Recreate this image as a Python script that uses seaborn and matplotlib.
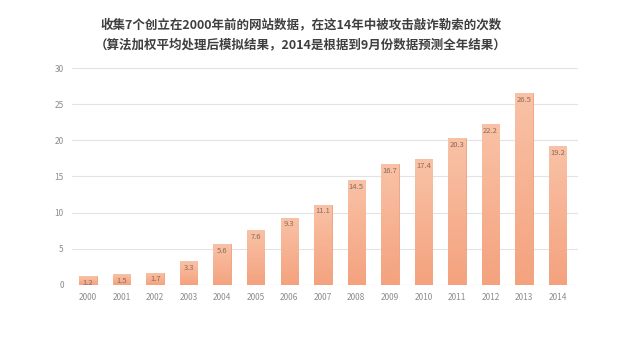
import matplotlib
matplotlib.use('Agg')
import matplotlib.pyplot as plt
import seaborn as sns
import numpy as np
import pandas as pd
from matplotlib.colors import LinearSegmentedColormap

# Data
years = ['2000', '2001', '2002', '2003', '2004', '2005', '2006', '2007',
         '2008', '2009', '2010', '2011', '2012', '2013', '2014']
counts = [1.2, 1.5, 1.7, 3.3, 5.6, 7.6, 9.3, 11.1, 14.5, 16.7, 17.4, 20.3, 22.2, 26.5, 19.2]
title_lines = ['收集7个创立在2000年前的网站数据，在这14年中被攻击敲诈勒索的次数',
               '（算法加权平均处理后模拟结果，2014是根据到9月份数据预测全年结果）']

df = pd.DataFrame({'year': years, 'count': counts})

sns.set_theme(style='white')
plt.rcParams['font.family'] = ['Noto Sans CJK SC', 'DejaVu Sans']

fig = plt.figure(figsize=(6.4, 3.58), dpi=100)
ax = fig.add_axes([0.1125, 0.204, 0.79, 0.606])

sns.barplot(x='year', y='count', data=df, color='#F5AA88', width=0.52,
            edgecolor='#EE9E7C', linewidth=0.6, ax=ax, zorder=3)

# vertical gradient inside each bar
cmap = LinearSegmentedColormap.from_list('peach', ['#F4A27E', '#F9C2A6'])
grad = np.linspace(0, 1, 256).reshape(-1, 1)
for p in ax.patches:
    x0, y0 = p.get_x(), p.get_y()
    w, h = p.get_width(), p.get_height()
    im = ax.imshow(grad, extent=[x0, x0 + w, y0, y0 + h], origin='lower',
                   cmap=cmap, aspect='auto', zorder=3.5)
    im.set_clip_path(p)

for i, v in enumerate(counts):
    ax.text(i, v - 0.35, f'{v:.1f}', ha='center', va='top', fontsize=5.5,
            color='#8C6A5C', zorder=5)

ax.set_xlim(-0.48, 14.6)
ax.set_ylim(0, 30)
ax.set_yticks(range(0, 31, 5))
ax.yaxis.grid(True, color='#E3E3E3', linewidth=0.8, zorder=0)
ax.set_axisbelow(True)
for s in ax.spines.values():
    s.set_visible(False)
ax.axhline(0, color='#D9D9D9', linewidth=0.8, zorder=2)
ax.tick_params(axis='both', labelsize=6, colors='#8C8C8C', length=0, pad=6)
ax.set_xlabel('')
ax.set_ylabel('')

fig.text(0.47, 0.93, title_lines[0], ha='center', va='center', fontsize=9.0,
         fontweight='bold', color='#3F3F3F')
fig.text(0.47, 0.875, title_lines[1], ha='center', va='center', fontsize=9.0,
         fontweight='bold', color='#3F3F3F')

fig.savefig('out.png', dpi=100, facecolor='white')
